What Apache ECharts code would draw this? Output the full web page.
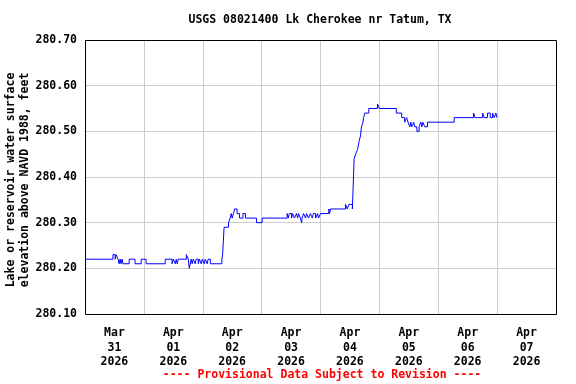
<!DOCTYPE html>
<html><head><meta charset="utf-8">
<script src="https://cdn.jsdelivr.net/npm/echarts@6/dist/echarts.min.js"></script>
<style>html,body{margin:0;padding:0;background:#fff}#c{width:576px;height:384px}</style>
</head><body><div id="c"></div>
<script>
const titleText = 'USGS 08021400 Lk Cherokee nr Tatum, TX';
const yAxisTitle = 'Lake or reservoir water surface\nelevation above NAVD 1988, feet';
const footnote = '---- Provisional Data Subject to Revision ----';
const dayLabels = ['Mar\n31\n2026', 'Apr\n01\n2026', 'Apr\n02\n2026', 'Apr\n03\n2026',
                   'Apr\n04\n2026', 'Apr\n05\n2026', 'Apr\n06\n2026', 'Apr\n07\n2026'];
const yMin = 280.10, yMax = 280.70, yStep = 0.10;
// hours since 2026-03-31 00:00
const hoursSinceMar31 = [
  0, 11.4, 12.3, 12.7, 13.5, 13.9, 14.3, 14.7, 15.1, 15.5, 18.0, 20.4, 22.9, 24.9, 32.7,
  35.5, 36.0, 36.8, 37.2, 37.6, 38.0, 41.3, 42.1, 42.5, 43.3, 43.7, 44.1, 44.9, 45.3, 46.2,
  46.6, 47.4, 47.8, 48.6, 49.0, 49.8, 50.2, 51.1, 55.8, 56.1, 56.4, 56.7, 58.5, 59.2, 59.6,
  60.0, 60.5, 61.0, 62.0, 63.0, 64.4, 65.4, 69.9, 72.2, 82.4, 82.9, 83.3, 84.2, 84.6, 85.4,
  86.2, 86.7, 87.0, 87.8, 88.3, 88.5, 89.1, 89.9, 90.3, 91.1, 91.9, 92.7, 93.1, 94.0, 94.8,
  95.2, 96.0, 99.4, 99.7, 100.1, 106.2, 106.9, 107.6, 109.0, 109.7, 110.3, 111.1, 111.8, 112.3, 112.7,
  113.3, 113.6, 114.0, 115.7, 119.2, 120.0, 126.9, 129.1, 130.3, 131.1, 131.7, 132.4, 132.8, 133.2, 134.0,
  134.4, 135.3, 136.2, 136.9, 137.3, 137.7, 138.5, 139.6, 150.5, 158.4, 159.0, 162.1, 162.7, 164.1, 165.2,
  166.1, 166.8, 167.5, 167.9
];
const elevationFt = [
  280.22, 280.23, 280.22, 280.23, 280.22, 280.21, 280.22, 280.21, 280.22, 280.21, 280.22, 280.21, 280.22, 280.21, 280.22,
  280.21, 280.22, 280.21, 280.22, 280.21, 280.22, 280.23, 280.22, 280.20, 280.22, 280.21, 280.22, 280.21, 280.22, 280.21,
  280.22, 280.21, 280.22, 280.21, 280.22, 280.21, 280.22, 280.21, 280.22, 280.23, 280.26, 280.29, 280.30, 280.31, 280.32,
  280.31, 280.32, 280.33, 280.32, 280.31, 280.32, 280.31, 280.30, 280.31, 280.32, 280.31, 280.32, 280.31, 280.32, 280.31,
  280.32, 280.31, 280.32, 280.31, 280.30, 280.31, 280.32, 280.31, 280.32, 280.31, 280.32, 280.31, 280.32, 280.31, 280.32,
  280.31, 280.32, 280.33, 280.32, 280.33, 280.34, 280.33, 280.34, 280.33, 280.44, 280.45, 280.46, 280.48, 280.49, 280.51,
  280.52, 280.53, 280.54, 280.55, 280.56, 280.55, 280.54, 280.53, 280.52, 280.53, 280.52, 280.51, 280.52, 280.51, 280.52,
  280.51, 280.50, 280.51, 280.52, 280.51, 280.52, 280.51, 280.52, 280.53, 280.54, 280.53, 280.54, 280.53, 280.54, 280.53,
  280.54, 280.53, 280.54, 280.53
];

const FONT = 'DejaVu Sans Mono';
const G = {left: 85, right: 20, top: 40, bottom: 70};
const chart = echarts.init(document.getElementById('c'), null, {renderer: 'canvas'});
const txt = {fontFamily: FONT, fontWeight: 'bold', fontSize: 11.5, color: '#000'};
chart.setOption({
  animation: false,
  backgroundColor: '#fff',
  grid: {left: G.left, right: G.right, top: G.top, bottom: G.bottom, show: false},
  xAxis: [
    {type: 'value', min: 0, max: 192, interval: 24,
     axisLabel: {show: false}, axisTick: {show: false}, axisLine: {show: false},
     splitLine: {show: true, lineStyle: {color: '#cccccc', width: 1}}},
    {type: 'value', min: 0, max: 192, interval: 12, position: 'bottom',
     axisLine: {show: false}, axisTick: {show: false}, splitLine: {show: false},
     axisLabel: Object.assign({}, txt, {margin: 12, lineHeight: 14.5,
       formatter: v => (v % 24 === 12) ? dayLabels[(v - 12) / 24] : ''})}
  ],
  yAxis: {type: 'value', min: yMin, max: yMax, interval: yStep,
    axisLine: {show: false}, axisTick: {show: false},
    splitLine: {show: true, lineStyle: {color: '#cccccc', width: 1}},
    axisLabel: Object.assign({}, txt, {margin: 8, formatter: v => v.toFixed(2)})},
  series: [{
    type: 'line', xAxisIndex: 0, step: 'end', showSymbol: false, symbol: 'none',
    lineStyle: {color: '#0000ff', width: 1}, z: 5,
    data: hoursSinceMar31.map((h, i) => [h, elevationFt[i]])
  }],
  graphic: [
    {type: 'rect', z: 100, silent: true,
     shape: {x: G.left + 0.5, y: G.top + 0.5, width: 576 - G.left - G.right, height: 384 - G.top - G.bottom},
     style: {fill: null, stroke: '#000', lineWidth: 1}},
    {type: 'text', x: 320, y: 20, style: Object.assign({}, txt, {text: titleText, fill: '#000', align: 'center', verticalAlign: 'middle'})},
    {type: 'text', x: 18, y: 180, rotation: Math.PI / 2,
     style: Object.assign({}, txt, {text: yAxisTitle, fill: '#000', align: 'center', verticalAlign: 'middle', lineHeight: 14})},
    {type: 'text', x: 322, y: 375, style: Object.assign({}, txt, {text: footnote, fill: '#ff0000', align: 'center', verticalAlign: 'middle'})}
  ]
});
</script></body></html>
